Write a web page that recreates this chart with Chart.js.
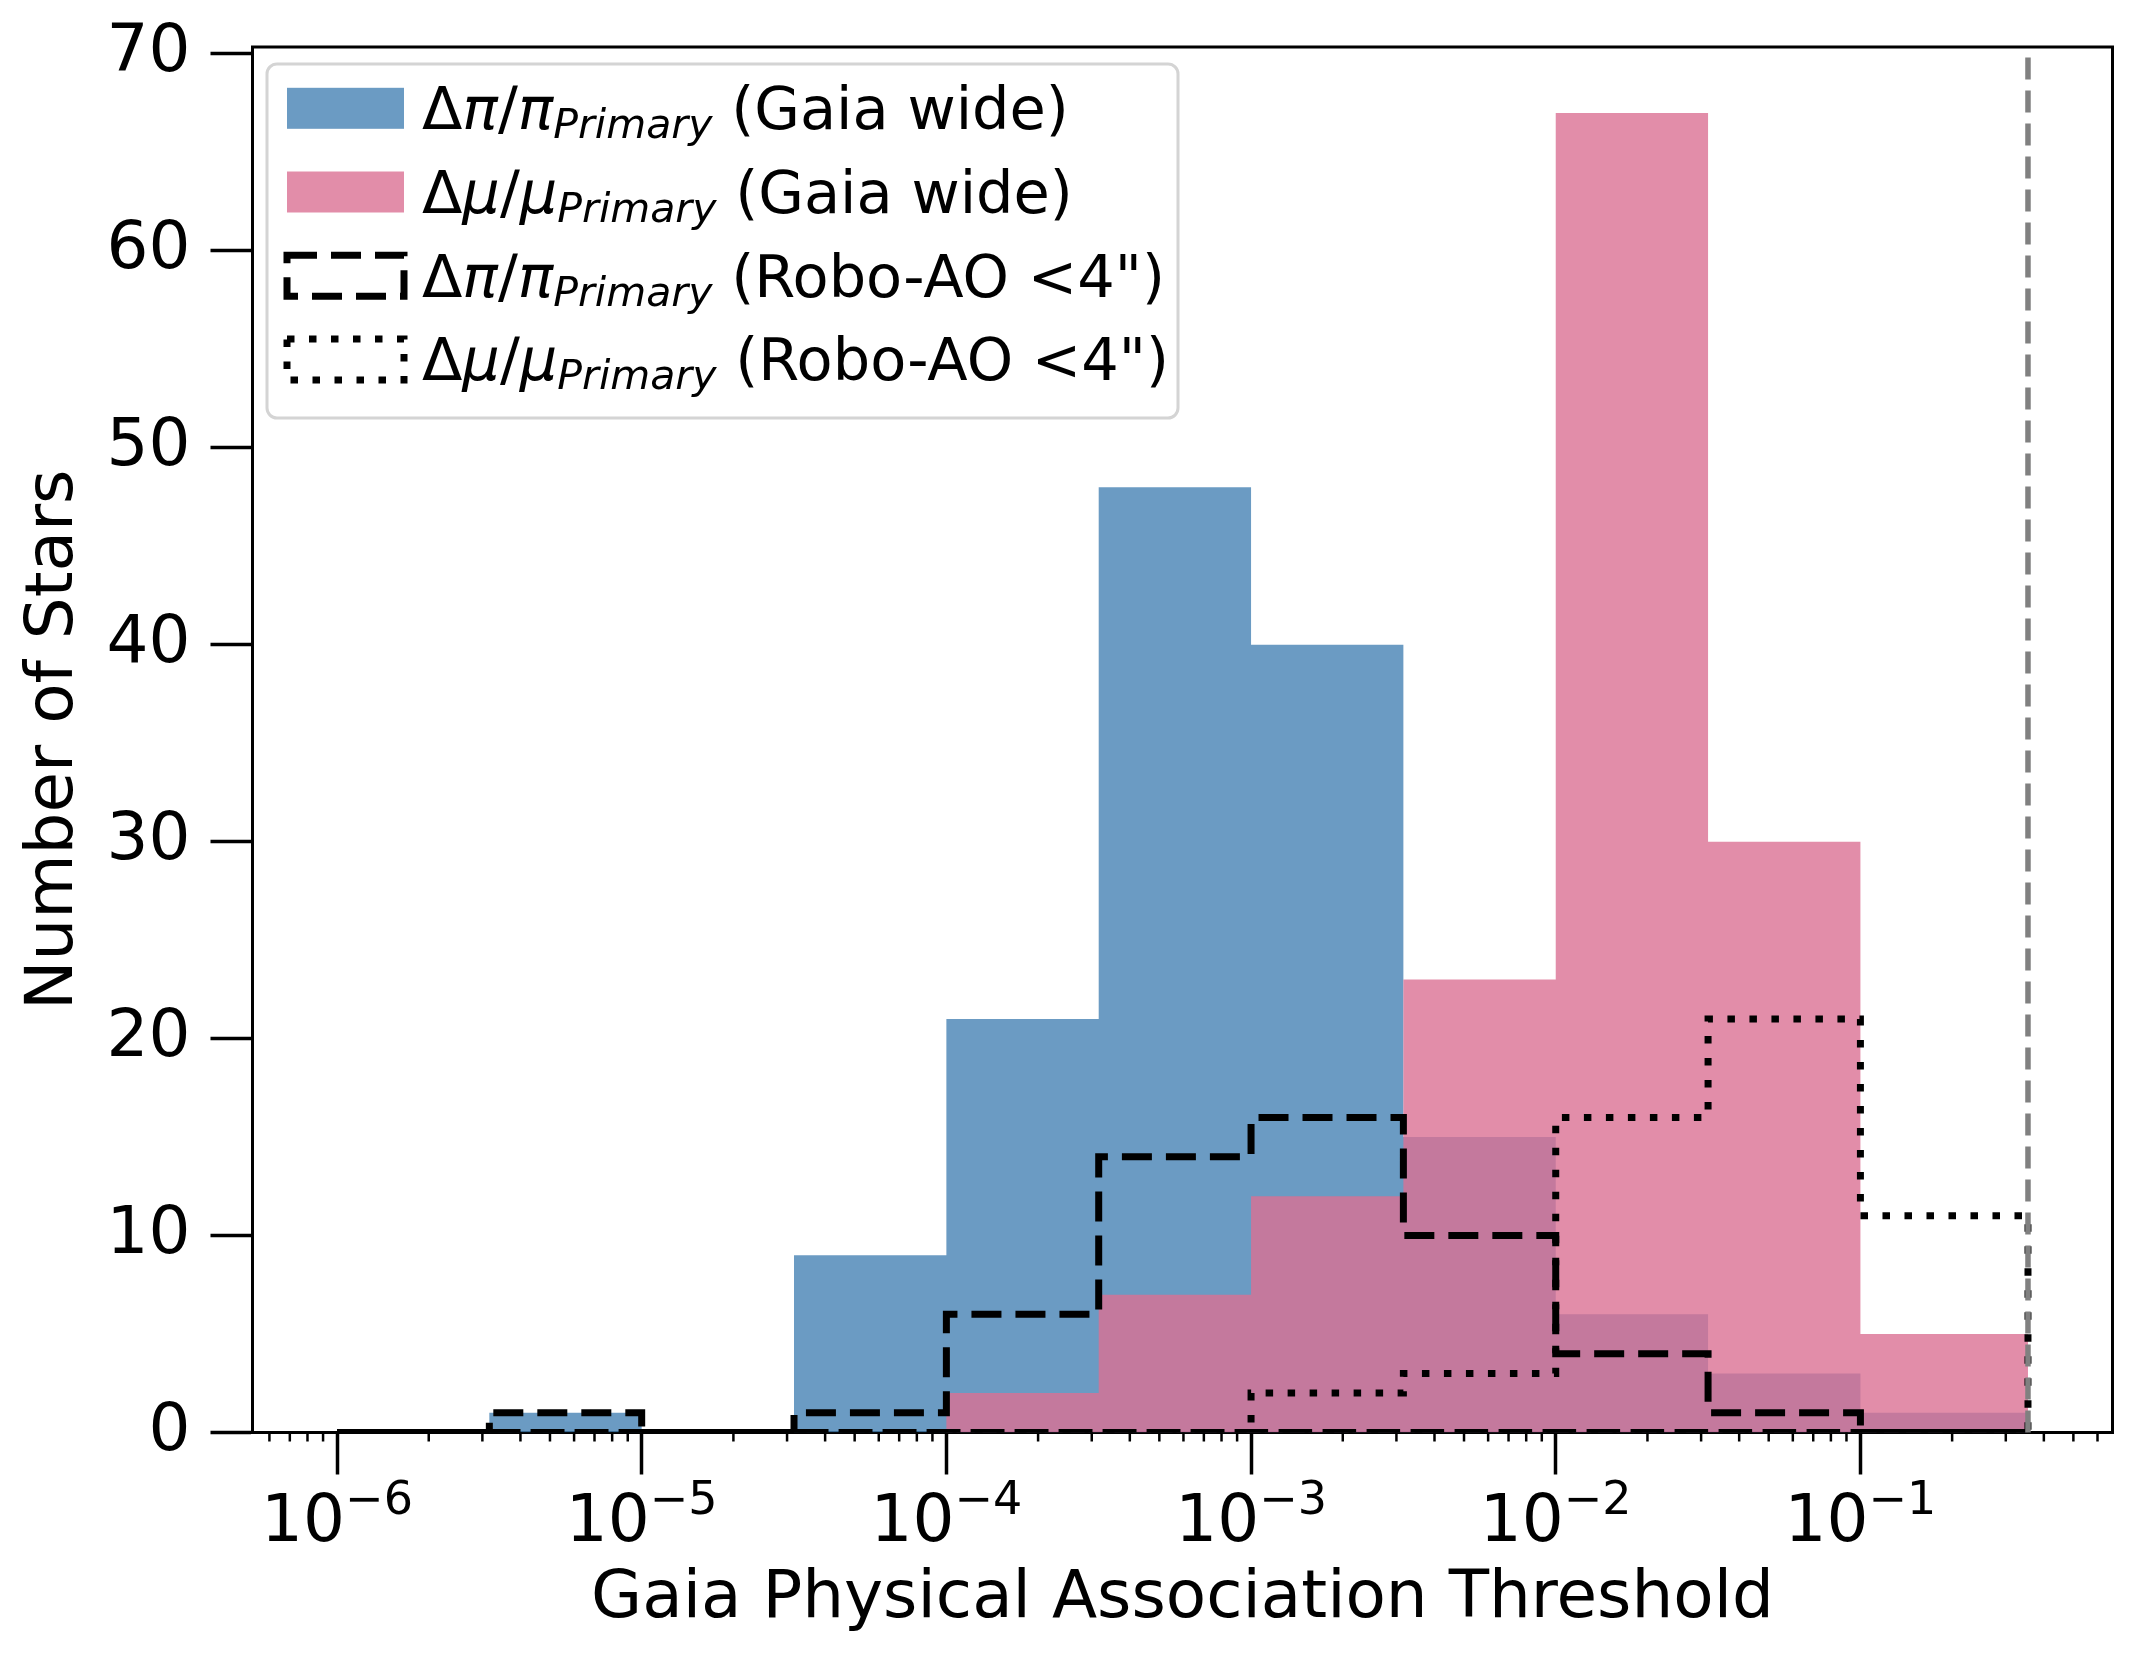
<!DOCTYPE html>
<html>
<head>
<meta charset="utf-8">
<script src="https://cdn.jsdelivr.net/npm/chart.js@4.4.1/dist/chart.umd.min.js"></script>
<style>
  html, body { margin: 0; padding: 0; background: #ffffff; }
  #wrap { width: 2141px; height: 1665px; }
  canvas { display: block; }
</style>
</head>
<body>
<div id="wrap"><canvas id="chart" width="2141" height="1665"></canvas></div>
<script>
// ---------------- data ----------------
const binEdges = [1e-6, 3.162e-6, 1e-5, 3.162e-5, 1e-4, 3.162e-4, 1e-3, 3.162e-3, 1e-2, 3.162e-2, 1e-1, 0.3548];
const gaiaParallaxCounts = [0, 1, 0, 9, 21, 48, 40, 15, 6, 3, 1];
const gaiaProperMotionCounts = [0, 0, 0, 0, 2, 7, 12, 23, 67, 30, 5];
const roboParallaxCounts = [0, 1, 0, 1, 6, 14, 16, 10, 4, 1, 0];
const roboProperMotionCounts = [0, 0, 0, 0, 0, 0, 2, 3, 16, 21, 11];
const thresholdValue = 0.3548;

const xMajorTicks = [1e-6, 1e-5, 1e-4, 1e-3, 1e-2, 1e-1];
const xTickBase = '10';
const xTickExponents = ['\u22126', '\u22125', '\u22124', '\u22123', '\u22122', '\u22121'];
const xMinorDecades = [-7, -6, -5, -4, -3, -2, -1];
const xMinorMultipliers = [2, 3, 4, 5, 6, 7, 8, 9];
const xMin = 5.28e-7, xMax = 0.672;
const yMin = 0, yMax = 70.35, yStep = 10;

const legendSymbols = ['\u03C0', '\u03BC', '\u03C0', '\u03BC'];
const legendSubscript = 'Primary';
const legendSuffixes = ['(Gaia wide)', '(Gaia wide)', '(Robo-AO <4")', '(Robo-AO <4")'];

const xTitle = 'Gaia Physical Association Threshold';
const yTitle = 'Number of Stars';

// ---------------- styles ----------------
const FONT = 'DejaVu Sans';
const blueFill = 'rgba(70,130,180,0.8)';
const pinkFill = 'rgba(219,112,147,0.8)';
const dashPattern = [30, 14];
const dotPattern = [7.5, 14.5];
const stepLineWidth = 7;

function stepOutline(edges, counts, closed) {
  const pts = [{x: edges[0], y: 0}];
  counts.forEach((c, i) => {
    pts.push({x: edges[i], y: c});
    pts.push({x: edges[i + 1], y: c});
  });
  pts.push({x: edges[edges.length - 1], y: 0});
  if (closed) pts.push({x: edges[0], y: 0});
  return pts;
}

const axisExtrasPlugin = {
  id: 'axisExtras',
  afterDraw(chart) {
    const {ctx, chartArea: ca} = chart;
    const xs = chart.scales.x;
    ctx.save();
    // minor ticks on the log axis
    ctx.strokeStyle = '#000';
    ctx.lineWidth = 2.5;
    xMinorDecades.forEach(d => {
      xMinorMultipliers.forEach(m => {
        const v = m * Math.pow(10, d);
        if (v <= xMin || v >= xMax) return;
        const px = xs.getPixelForValue(v);
        ctx.beginPath();
        ctx.moveTo(px, ca.bottom);
        ctx.lineTo(px, ca.bottom + 9);
        ctx.stroke();
      });
    });
    // major tick labels, 10 with superscript exponent
    ctx.fillStyle = '#000';
    ctx.textBaseline = 'alphabetic';
    ctx.textAlign = 'left';
    const base = ca.bottom + 108.5;
    xMajorTicks.forEach((v, i) => {
      const px = xs.getPixelForValue(v);
      ctx.font = '66px "' + FONT + '"';
      const w1 = ctx.measureText(xTickBase).width;
      ctx.font = '46px "' + FONT + '"';
      const w2 = ctx.measureText(xTickExponents[i]).width;
      const x0 = px - (w1 + w2) / 2;
      ctx.font = '66px "' + FONT + '"';
      ctx.fillText(xTickBase, x0, base);
      ctx.font = '46px "' + FONT + '"';
      ctx.fillText(xTickExponents[i], x0 + w1, base - 27.5);
    });
    // top and right spines
    ctx.lineWidth = 3;
    ctx.beginPath();
    ctx.moveTo(ca.left - 1.5, ca.top);
    ctx.lineTo(ca.right, ca.top);
    ctx.lineTo(ca.right, ca.bottom + 1.5);
    ctx.stroke();
    ctx.restore();
  }
};

const thresholdPlugin = {
  id: 'thresholdLine',
  afterDatasetsDraw(chart) {
    const {ctx, chartArea: ca} = chart;
    const px = chart.scales.x.getPixelForValue(thresholdValue);
    ctx.save();
    ctx.strokeStyle = '#808080';
    ctx.lineWidth = 5.5;
    ctx.setLineDash([22, 11]);
    ctx.beginPath();
    ctx.moveTo(px, ca.bottom);
    ctx.lineTo(px, ca.top + 2);
    ctx.stroke();
    ctx.restore();
  }
};

function roundRectPath(ctx, x, y, w, h, r) {
  ctx.beginPath();
  ctx.moveTo(x + r, y);
  ctx.lineTo(x + w - r, y);
  ctx.arcTo(x + w, y, x + w, y + r, r);
  ctx.lineTo(x + w, y + h - r);
  ctx.arcTo(x + w, y + h, x + w - r, y + h, r);
  ctx.lineTo(x + r, y + h);
  ctx.arcTo(x, y + h, x, y + h - r, r);
  ctx.lineTo(x, y + r);
  ctx.arcTo(x, y, x + r, y, r);
  ctx.closePath();
}

const legendPlugin = {
  id: 'mathLegend',
  afterDraw(chart) {
    const {ctx, chartArea: ca} = chart;
    const bx = ca.left + 14.5, by = ca.top + 17, bw = 911, bh = 354;
    ctx.save();
    roundRectPath(ctx, bx, by, bw, bh, 10);
    ctx.fillStyle = 'rgba(255,255,255,0.8)';
    ctx.fill();
    ctx.lineWidth = 3;
    ctx.strokeStyle = '#d4d4d4';
    ctx.stroke();

    const ds = chart.data.datasets;
    for (let i = 0; i < 4; i++) {
      const rowY = by + 44.3 + 83.7 * i;
      const hx = bx + 20, hw = 117, hh = 41;
      const d = ds[i];
      if (d.fill) {
        ctx.fillStyle = d.backgroundColor;
        ctx.fillRect(hx, rowY - hh / 2, hw, hh);
      } else {
        ctx.strokeStyle = '#000';
        ctx.lineWidth = stepLineWidth;
        ctx.setLineDash(d.borderDash);
        ctx.strokeRect(hx, rowY - hh / 2, hw, hh);
        ctx.setLineDash([]);
      }
      let x = bx + 155;
      const base = rowY + 21;
      ctx.fillStyle = '#000';
      ctx.textBaseline = 'alphabetic';
      ctx.textAlign = 'left';
      const parts = [
        ['\u0394', '59px "' + FONT + '"', 0],
        [legendSymbols[i], 'italic 59px "' + FONT + '"', 0],
        ['/', '59px "' + FONT + '"', 0],
        [legendSymbols[i], 'italic 59px "' + FONT + '"', 0],
        [legendSubscript, 'italic 41px "' + FONT + '"', 9],
        [' ' + legendSuffixes[i], '59px "' + FONT + '"', 0]
      ];
      parts.forEach(([t, f, dy]) => {
        ctx.font = f;
        ctx.fillText(t, x, base + dy);
        x += ctx.measureText(t).width;
      });
    }
    ctx.restore();
  }
};

const ctx = document.getElementById('chart').getContext('2d');
new Chart(ctx, {
  type: 'line',
  data: {
    datasets: [
      {
        label: 'Gaia wide parallax',
        data: stepOutline(binEdges, gaiaParallaxCounts, false),
        backgroundColor: blueFill,
        borderColor: 'rgba(0,0,0,0)',
        borderWidth: 0,
        fill: 'origin',
        pointRadius: 0,
        tension: 0,
        clip: 0,
        order: 4
      },
      {
        label: 'Gaia wide proper motion',
        data: stepOutline(binEdges, gaiaProperMotionCounts, false),
        backgroundColor: pinkFill,
        borderColor: 'rgba(0,0,0,0)',
        borderWidth: 0,
        fill: 'origin',
        pointRadius: 0,
        tension: 0,
        clip: 0,
        order: 3
      },
      {
        label: 'Robo-AO parallax',
        data: stepOutline(binEdges, roboParallaxCounts, true),
        borderColor: '#000',
        borderWidth: stepLineWidth,
        borderDash: dashPattern,
        borderCapStyle: 'butt',
        borderJoinStyle: 'miter',
        fill: false,
        pointRadius: 0,
        tension: 0,
        clip: 0,
        order: 2
      },
      {
        label: 'Robo-AO proper motion',
        data: stepOutline(binEdges, roboProperMotionCounts, true),
        borderColor: '#000',
        borderWidth: stepLineWidth,
        borderDash: dotPattern,
        borderCapStyle: 'butt',
        borderJoinStyle: 'miter',
        fill: false,
        pointRadius: 0,
        tension: 0,
        clip: 0,
        order: 1
      }
    ]
  },
  options: {
    responsive: false,
    devicePixelRatio: 1,
    animation: false,
    events: [],
    layout: { padding: { left: 0, top: 47, right: 28.5, bottom: 0 } },
    plugins: {
      legend: { display: false },
      tooltip: { enabled: false }
    },
    scales: {
      x: {
        type: 'logarithmic',
        min: xMin,
        max: xMax,
        z: 1,
        afterBuildTicks: (scale) => {
          scale.ticks = xMajorTicks.map(v => ({ value: v, major: true }));
        },
        afterFit: (scale) => { scale.height = 232.5; },
        ticks: {
          display: false,
          autoSkip: false,
          maxRotation: 0,
          minRotation: 0
        },
        grid: {
          display: true,
          drawOnChartArea: false,
          drawTicks: true,
          tickLength: 42,
          tickWidth: 3.5,
          tickColor: '#000'
        },
        border: { display: true, color: '#000', width: 3 },
        title: {
          display: true,
          text: xTitle,
          color: '#000',
          font: { family: FONT, size: 66 },
          padding: { top: 4, bottom: 26 }
        }
      },
      y: {
        type: 'linear',
        min: yMin,
        max: yMax,
        z: 1,
        afterFit: (scale) => { scale.width = 252.5; },
        ticks: {
          stepSize: yStep,
          includeBounds: false,
          padding: 20,
          color: '#000',
          font: { family: FONT, size: 66, lineHeight: 0.8 }
        },
        grid: {
          display: true,
          drawOnChartArea: false,
          drawTicks: true,
          tickLength: 42,
          tickWidth: 3.5,
          tickColor: '#000'
        },
        border: { display: true, color: '#000', width: 3 },
        title: {
          display: true,
          text: yTitle,
          color: '#000',
          font: { family: FONT, size: 66 },
          padding: { top: 15, bottom: 12 }
        }
      }
    }
  },
  plugins: [thresholdPlugin, axisExtrasPlugin, legendPlugin]
});
</script>
</body>
</html>
